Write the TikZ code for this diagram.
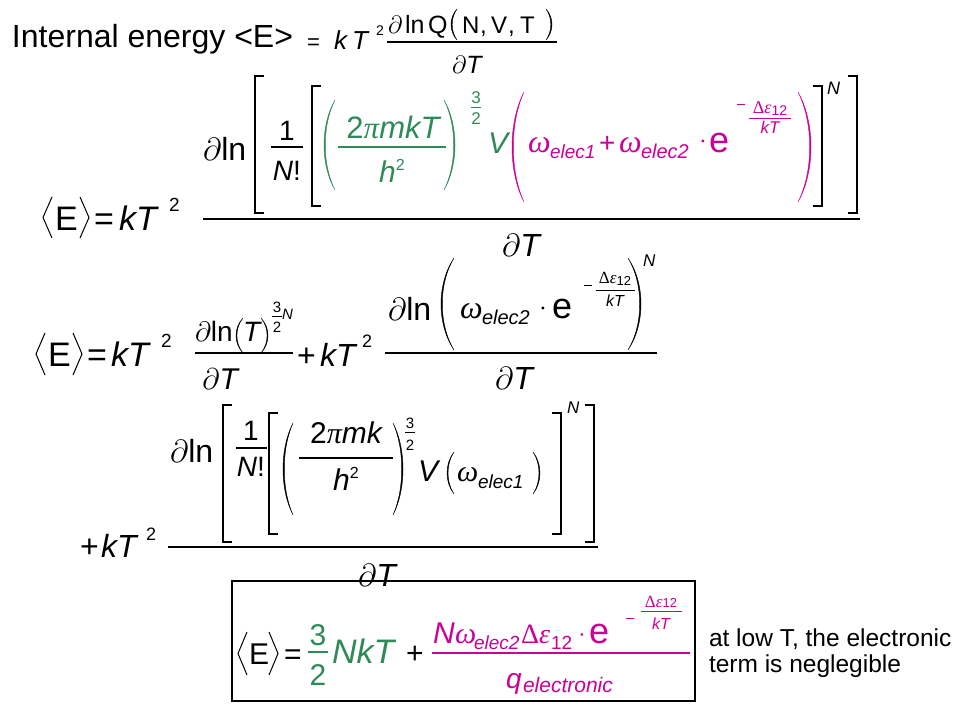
\RequirePackage{fix-cm}
\documentclass[tikz,border=0pt]{standalone}
\usepackage{fontspec}
\setmainfont{Liberation Sans}
\newfontfamily\gkf{Liberation Serif}
\definecolor{eqgreen}{RGB}{46,139,87}
\definecolor{eqmag}{RGB}{204,0,153}
\newcommand\setfs[1]{\fontsize{#1}{#1}\selectfont}
\newcommand\drawP[6][black]{%
  \filldraw[#1,line width=0.4pt] (#3,#4)
    .. controls ({(8*(#2)-2*(#3))/6},{(#4)+0.28*((#5)-(#4))}) and ({(8*(#2)-2*(#3))/6},{(#5)-0.28*((#5)-(#4))}) .. (#3,#5)
    .. controls ({(8*((#2)+(#6))-2*(#3))/6},{(#5)-0.28*((#5)-(#4))}) and ({(8*((#2)+(#6))-2*(#3))/6},{(#4)+0.28*((#5)-(#4))}) .. (#3,#4) -- cycle;}
\tikzset{
  tx/.style={inner sep=0pt, outer sep=0pt, anchor=base west},
  tc/.style={inner sep=0pt, outer sep=0pt, anchor=base},
  brk/.style={line width=2.2pt},
  fbar/.style={line width=1.5pt},
  sbar/.style={line width=0.8pt},
  ang/.style={line width=1pt, line join=miter},
  gr/.style={text=eqgreen},
  mg/.style={text=eqmag},
}
\begin{document}
\begin{tikzpicture}[x=1pt,y=-1pt]
\useasboundingbox (0,0) rectangle (960,720);
\fill[white] (0,0) rectangle (960,720);

% ---------------- title line
\node[tx,font=\setfs{32}] (t0) at (12,47) {Internal energy <E>};
\node[tx,font=\setfs{22}] (t1) at (307,49) {=};
\node[tx,font=\setfs{26}\itshape] (t2) at (334,49) {k};
\node[tx,font=\setfs{26}\itshape] (t2b) at (352,49) {T};
\node[tx,font=\setfs{14}] (t3) at (376,35) {2};
\draw[fbar,line width=1.2pt] (387,42) -- (557,42);
\node[tx,font=\setfs{25}] (t4) at (388,33) {$\partial$};
\node[tx,font=\setfs{25}] (t4b) at (405,33) {ln};
\node[tx,font=\setfs{25}] (t4c) at (428,33) {Q};
\drawP{451}{457}{9}{40}{1.2}
\node[tx,font=\setfs{24}] (t5) at (462,33) {N};
\node[tx,font=\setfs{24}] (t5b) at (480,33) {,};
\node[tx,font=\setfs{24}] (t5c) at (491,33) {V};
\node[tx,font=\setfs{24}] (t5d) at (508,33) {,};
\node[tx,font=\setfs{24}] (t5e) at (520,33) {T};
\drawP{552}{546}{9}{40}{-1.2}
\node[tx,font=\setfs{25}] (t6) at (452,73) {$\partial$\textit{T}};

% ---------------- equation 2
\draw[ang] (52,197) -- (43,217.5) -- (52,238);
\node[tx,font=\setfs{34}] (a1) at (55,230) {E};
\draw[ang] (80,197) -- (89,217.5) -- (80,238);
\node[tx,font=\setfs{34}] (a2) at (94,230) {=};
\node[tx,font=\setfs{34}\itshape] (a3) at (119,230) {kT};
\node[tx,font=\setfs{19}] (a4) at (169,211) {2};
\draw[fbar] (203,219) -- (860,219);
\node[tx,font=\setfs{32}] (a5) at (203,160) {$\partial$ln};
\draw[brk] (264,76) -| (255,213) -- (264,213);
\node[tc,font=\setfs{28}] (a6) at (287,140) {1};
\draw[fbar,line width=1.2pt] (271,147) -- (303,147);
\node[tc,font=\setfs{28}] (a7) at (287,180) {\textit{N}!};
\draw[brk] (321,86) -| (312,206) -- (321,206);
\drawP[eqgreen]{324}{335}{100}{190}{1.3}
\node[tc,gr,font=\setfs{31}\itshape] (a8) at (393,138) {\textup{2}{\gkf π}mkT};
\draw[fbar,eqgreen,line width=1.2pt] (338,147) -- (446,147);
\node[tc,gr,font=\setfs{30}\itshape] (a9) at (392,182) {h\raisebox{12pt}{\setfs{16}\upshape 2}};
\drawP[eqgreen]{455}{444}{100}{190}{-1.3}
\node[tc,gr,font=\setfs{17}] (a10) at (476,103) {3};
\draw[sbar,eqgreen] (471,107) -- (481,107);
\node[tc,gr,font=\setfs{17}] (a11) at (476,124) {2};
\node[tx,gr,font=\setfs{30}\itshape] (a12) at (488,153) {V};
\drawP[eqmag]{512}{524}{92}{202}{1.3}
\node[tx,mg,font=\setfs{32}\gkf\itshape] (a13) at (528,152) {ω};
\node[tx,mg,font=\setfs{19}\itshape] (a14) at (550,158) {elec1};
\node[tx,mg,font=\setfs{28}] (a15) at (599,152) {+};
\node[tx,mg,font=\setfs{32}\gkf\itshape] (a16) at (619,152) {ω};
\node[tx,mg,font=\setfs{20}\itshape] (a17) at (641,158) {elec2};
\node[mg,inner sep=0pt,font=\setfs{28}] (a18) at (703,142) {$\cdot$};
\node[tx,mg,font=\setfs{36}] (a19) at (709,152) {e};
\draw[eqmag,line width=0.9pt] (737,104) -- (745,104);
\node[tc,mg,font=\setfs{18}] (a20) at (770,113) {{\gkf Δ\itshape ε}\raisebox{-2pt}{\setfs{14}12}};
\draw[sbar,eqmag] (749,118) -- (791,118);
\node[tc,mg,font=\setfs{17}\itshape] (a21) at (770,133) {kT};
\drawP[eqmag]{811}{798}{92}{202}{-1.3}
\draw[brk] (813,86) -| (822,206) -- (813,206);
\node[tx,font=\setfs{18}\itshape] (a22) at (827,94) {N};
\draw[brk] (848,76) -| (857,213) -- (848,213);
\node[tc,font=\setfs{32}] (a23) at (522,256) {$\partial$\textit{T}};

% ---------------- equation 3
\draw[ang] (45,333) -- (36,354) -- (45,375);
\node[tx,font=\setfs{34}] (b1) at (48,366) {E};
\draw[ang] (73,333) -- (82,354) -- (73,375);
\node[tx,font=\setfs{34}] (b2) at (87,366) {=};
\node[tx,font=\setfs{34}\itshape] (b3) at (111,366) {kT};
\node[tx,font=\setfs{19}] (b4) at (161,347) {2};
\draw[fbar] (195,353) -- (293,353);
\node[tx,font=\setfs{28}] (b5) at (195,341) {$\partial$ln};
\drawP{236}{243}{318}{353}{0.9}
\node[tx,font=\setfs{28}\itshape] (b6) at (243,341) {T};
\drawP{268}{261}{318}{353}{-0.9}
\node[tc,font=\setfs{15}] (b7) at (277,312) {3};
\draw[sbar,line width=0.7pt] (272,316) -- (282,316);
\node[tc,font=\setfs{15}] (b8) at (277,332) {2};
\node[tx,font=\setfs{15}\itshape] (b9) at (282,319) {N};
\node[tc,font=\setfs{30}] (b10) at (221,389) {$\partial$\textit{T}};
\node[tx,font=\setfs{32}] (b11) at (297,366) {+};
\node[tx,font=\setfs{32}\itshape] (b12) at (320,366) {kT};
\node[tx,font=\setfs{18}] (b13) at (362,347) {2};
\draw[fbar] (385,353) -- (657,353);
\node[tx,font=\setfs{32}] (b14) at (388,320) {$\partial$ln};
\drawP{441}{454}{258}{350}{1.3}
\node[tx,font=\setfs{32}\gkf\itshape] (b15) at (460,318) {ω};
\node[tx,font=\setfs{20}\itshape] (b16) at (482,324) {elec2};
\node[inner sep=0pt,font=\setfs{28}] (b17) at (543,309) {$\cdot$};
\node[tx,font=\setfs{36}] (b18) at (552,318) {e};
\draw[line width=0.9pt] (584,285) -- (592,285);
\node[tc,font=\setfs{17}] (b19) at (615,283) {{\gkf Δ\itshape ε}\raisebox{-2pt}{\setfs{13}12}};
\draw[sbar] (596,290) -- (635,290);
\node[tc,font=\setfs{16}\itshape] (b20) at (615,306) {kT};
\drawP{641}{628}{258}{350}{-1.3}
\node[tx,font=\setfs{17}\itshape] (b21) at (643,266) {N};
\node[tc,font=\setfs{32}] (b22) at (515,389) {$\partial$\textit{T}};

% ---------------- equation 4
\node[tx,font=\setfs{32}] (c1) at (80,557) {+};
\node[tx,font=\setfs{32}\itshape] (c2) at (101,557) {kT};
\node[tx,font=\setfs{18}] (c3) at (146,540) {2};
\draw[fbar] (168,547) -- (598,547);
\node[tx,font=\setfs{32}] (c4) at (170,462) {$\partial$ln};
\draw[brk] (232,405) -| (223,542) -- (232,542);
\node[tc,font=\setfs{28}] (c5) at (251,440) {1};
\draw[fbar,line width=1.2pt] (236,448) -- (267,448);
\node[tc,font=\setfs{28}] (c6) at (251,476) {\textit{N}!};
\draw[brk] (278,413) -| (269,534) -- (278,534);
\drawP{283}{293}{423}{515}{1.3}
\node[tc,font=\setfs{30}\itshape] (c7) at (346,443) {\textup{2}{\gkf π}mk};
\draw[fbar,line width=1.2pt] (299,458) -- (393,458);
\node[tc,font=\setfs{30}\itshape] (c8) at (346,490) {h\raisebox{12pt}{\setfs{16}\upshape 2}};
\drawP{403}{393}{423}{515}{-1.3}
\node[tc,font=\setfs{15}] (c9) at (410,428) {3};
\draw[sbar,line width=0.7pt] (405,432) -- (415,432);
\node[tc,font=\setfs{15}] (c10) at (410,450) {2};
\node[tx,font=\setfs{30}\itshape] (c11) at (418,481) {V};
\drawP{447}{454}{452}{494}{1}
\node[tx,font=\setfs{30}\gkf\itshape] (c12) at (457,481) {ω};
\node[tx,font=\setfs{19}\itshape] (c13) at (478,488) {elec1};
\drawP{540}{533}{452}{494}{-1}
\draw[brk] (552,413) -| (561,534) -- (552,534);
\node[tx,font=\setfs{17}\itshape] (c14) at (567,413) {N};
\draw[brk] (585,405) -| (594,542) -- (585,542);
\node[tc,font=\setfs{32}] (c15) at (378,586) {$\partial$\textit{T}};

% ---------------- boxed result
\draw[line width=2pt] (232,581) rectangle (695,701);
\draw[ang] (247,632) -- (238,653.5) -- (247,675);
\node[tx,font=\setfs{30}] (d1) at (249,664) {E};
\draw[ang] (269,632) -- (278,653.5) -- (269,675);
\node[tx,font=\setfs{30}] (d2) at (284,664) {=};
\node[tc,gr,font=\setfs{30}] (d3) at (318,645) {3};
\draw[fbar,eqgreen] (308,652) -- (328,652);
\node[tc,gr,font=\setfs{30}] (d4) at (318,685) {2};
\node[tx,gr,font=\setfs{34}\itshape] (d5) at (332,663) {NkT};
\node[tx,font=\setfs{30}] (d6) at (406,663) {+};
\draw[fbar,eqmag] (432,653) -- (690,653);
\node[tx,mg,font=\setfs{30}\itshape] (d7) at (433,643) {N};
\node[tx,mg,font=\setfs{30}\gkf\itshape] (d8) at (455,643) {ω};
\node[tx,mg,font=\setfs{19}\itshape] (d9) at (474,649) {elec2};
\node[tx,mg,font=\setfs{28}\gkf] (d10) at (521,643) {Δ\textit{ε}};
\node[tx,mg,font=\setfs{19}] (d11) at (551,649) {12};
\node[mg,inner sep=0pt,font=\setfs{26}] (d12) at (582,636) {$\cdot$};
\node[tx,mg,font=\setfs{36}] (d13) at (589,643) {e};
\draw[eqmag,line width=0.9pt] (626,618) -- (634,618);
\node[tc,mg,font=\setfs{17}] (d14) at (661,607) {{\gkf Δ\itshape ε}\setfs{13}12};
\draw[sbar,eqmag] (641,611) -- (682,611);
\node[tc,mg,font=\setfs{16}\itshape] (d15) at (661,629) {kT};
\node[tx,mg,font=\setfs{28}\itshape] (d16) at (506,688) {q};
\node[tx,mg,font=\setfs{21}\itshape] (d17) at (523,692) {electronic};

% ---------------- note
\node[tx,font=\setfs{24.5}] (n1) at (709,646) {at low T, the electronic};
\node[tx,font=\setfs{24.5}] (n2) at (709,672) {term is neglegible};
\end{tikzpicture}
\end{document}
